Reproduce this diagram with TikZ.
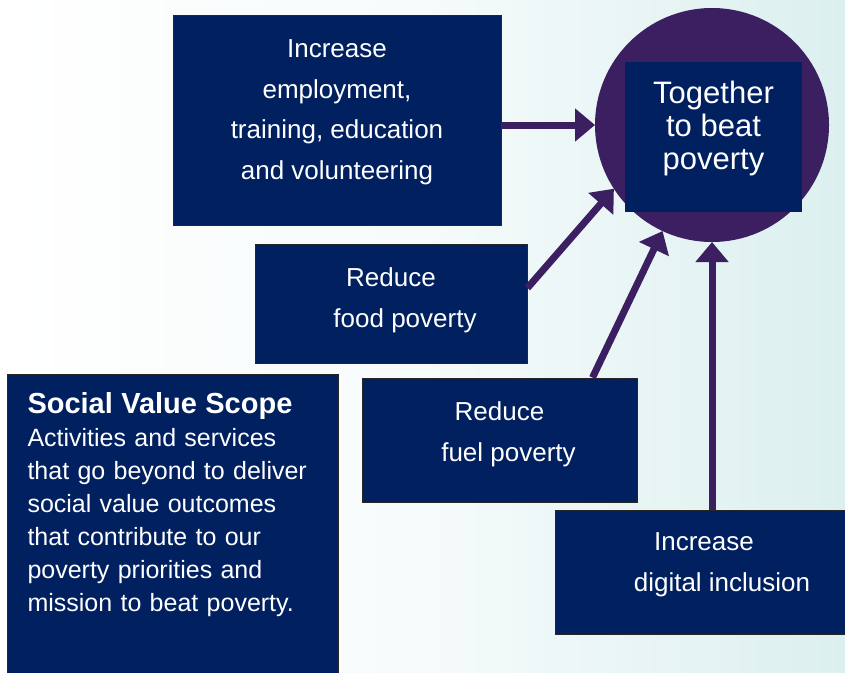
\documentclass[tikz,border=0pt]{standalone}
\usepackage{fontspec}
\setmainfont{Liberation Sans}
\usetikzlibrary{arrows.meta}
\definecolor{navy}{RGB}{0,32,96}
\definecolor{plum}{RGB}{60,31,96}
\definecolor{bgteal}{RGB}{220,239,239}
\newcommand{\lift}[1]{\rule[-#1pt]{0pt}{0pt}}

\begin{document}
\begin{tikzpicture}[x=1pt,y=-1pt,
  box/.style={draw=black!85,line width=0.8pt,fill=navy,text=white,inner sep=0pt,
    align=center,font=\fontsize{26}{40.5}\selectfont},
  arr/.style={plum,line width=7pt,-{Triangle[length=20pt,width=32pt]}}]

%% fond
\useasboundingbox (0,0) rectangle (845,672);
\clip (0,0) rectangle (845,672);
\shade[left color=white,right color=bgteal,middle color={rgb,255:red,246;green,251;blue,251}] (0,0) rectangle (845,672);

%% cercle
\node[circle,fill=plum,minimum size=234pt,inner sep=0pt,outer sep=0pt] (mission) at (712,125) {};
\node[box,draw=none,minimum width=177pt,minimum height=150pt,
  font=\fontsize{31}{33}\selectfont] (together) at (713.5,137) {Together\\to beat\\poverty\lift{23.6}};

%% boites
\node[box,minimum width=328pt,minimum height=210pt] (employ) at (337,120)
  {Increase\\employment,\\training, education\\and volunteering\lift{21}};
\node[box,minimum width=272pt,minimum height=119pt] (food) at (391,303.5)
  {Reduce\\\hspace*{28pt}food poverty\lift{12}};
\node[box,minimum width=275pt,minimum height=124pt] (fuel) at (499.5,440)
  {Reduce\\\hspace*{18pt}fuel poverty\lift{16.5}};
\node[box,minimum width=298pt,minimum height=124pt] (digital) at (704,572)
  {Increase\\\hspace*{36pt}digital inclusion\lift{19.5}};

%% social value
\node[box,align=left,minimum width=331pt,minimum height=316pt,text width=290pt,
  inner xsep=20.5pt,font=\fontsize{25}{33}\selectfont] (scope) at (172.5,532)
  {{\fontsize{29}{33}\selectfont\bfseries Social Value Scope}\\
   Activities and services\\
   that go beyond to deliver\\
   social value outcomes\\
   that contribute to our\\
   poverty priorities and\\
   mission to beat poverty.\lift{60}};

%% fleches
\draw[arr] (employ.east |- mission.west) -- (mission.west);
\draw[arr] ([yshift=15.5pt]food.east) -- (mission.213);
\draw[arr] ([xshift=93pt]fuel.north) -- (mission.245);
\draw[arr] (mission.south |- digital.north) -- (mission.south);

\end{tikzpicture}
\end{document}
